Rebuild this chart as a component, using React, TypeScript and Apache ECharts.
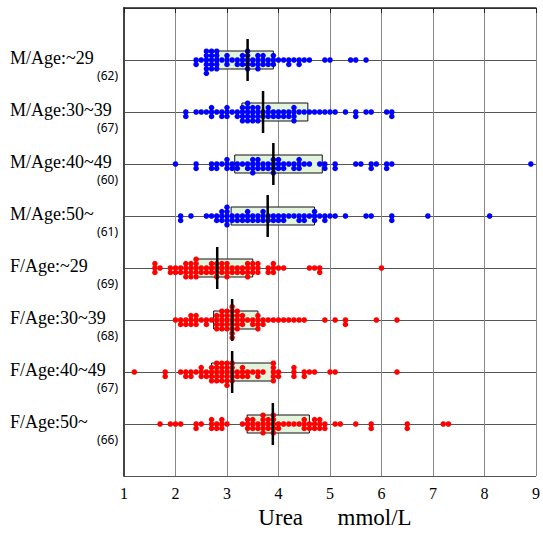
import React, { useEffect, useRef } from "react";
import * as echarts from "echarts";

// Group labels (top to bottom) and their sample sizes
const groups = [
  "M/Age:~29",
  "M/Age:30~39",
  "M/Age:40~49",
  "M/Age:50~",
  "F/Age:~29",
  "F/Age:30~39",
  "F/Age:40~49",
  "F/Age:50~",
];
const counts = [62, 67, 60, 61, 69, 68, 67, 66];
const sex = ["M", "M", "M", "M", "F", "F", "F", "F"];

// Box statistics (mmol/L)
const q1 = [2.83, 3.29, 3.15, 3.08, 2.39, 2.74, 2.7, 3.39];
const medians = [3.4, 3.7, 3.9, 3.79, 2.81, 3.1, 3.1, 3.89];
const q3 = [3.9, 4.57, 4.85, 4.7, 3.5, 3.6, 3.89, 4.6];

// X axis ticks
const xTicks = [1, 2, 3, 4, 5, 6, 7, 8, 9];

// Individual urea values: [value, how many points at that value]
const mAge29: [number, number][] = [
  [2.4, 2], [2.5, 1], [2.6, 6], [2.7, 5], [2.8, 5], [2.9, 1], [3.0, 3], [3.1, 1],
  [3.2, 2], [3.3, 3], [3.4, 5], [3.5, 2], [3.6, 4], [3.7, 3], [3.8, 2], [3.9, 3],
  [4.0, 1], [4.1, 1], [4.2, 2], [4.3, 1], [4.4, 2], [4.5, 1], [4.6, 1], [4.9, 1],
  [5.0, 1], [5.4, 1], [5.5, 1], [5.7, 1],
];
const mAge30: [number, number][] = [
  [2.2, 2], [2.4, 1], [2.5, 1], [2.6, 1], [2.7, 3], [2.8, 1], [2.9, 2], [3.0, 3],
  [3.1, 1], [3.2, 2], [3.3, 4], [3.4, 5], [3.5, 4], [3.6, 4], [3.7, 2], [3.8, 3],
  [3.9, 2], [4.0, 2], [4.1, 2], [4.2, 2], [4.3, 4], [4.4, 1], [4.5, 1], [4.6, 1],
  [4.7, 1], [4.8, 1], [4.9, 1], [5.0, 1], [5.1, 1], [5.3, 1], [5.5, 2], [5.7, 1],
  [5.8, 1], [6.1, 1], [6.2, 2],
];
const mAge40: [number, number][] = [
  [2.0, 1], [2.4, 2], [2.7, 2], [2.8, 2], [2.9, 1], [3.0, 3], [3.1, 2], [3.2, 2],
  [3.3, 1], [3.4, 2], [3.5, 4], [3.6, 3], [3.7, 2], [3.8, 2], [3.9, 4], [4.0, 3],
  [4.1, 2], [4.2, 1], [4.3, 2], [4.4, 3], [4.5, 1], [4.6, 1], [4.8, 1], [4.9, 2],
  [5.1, 2], [5.5, 1], [5.6, 1], [5.8, 2], [5.9, 1], [6.1, 2], [6.2, 1], [8.9, 1],
];
const mAge50: [number, number][] = [
  [2.1, 2], [2.3, 1], [2.6, 1], [2.7, 1], [2.8, 2], [2.9, 3], [3.0, 5], [3.1, 2],
  [3.2, 2], [3.3, 2], [3.4, 3], [3.5, 2], [3.6, 2], [3.7, 3], [3.8, 2], [3.9, 2],
  [4.0, 2], [4.1, 2], [4.2, 1], [4.3, 1], [4.4, 2], [4.5, 2], [4.6, 1], [4.7, 3],
  [4.8, 1], [4.9, 2], [5.0, 1], [5.1, 1], [5.3, 1], [5.7, 1], [5.8, 1], [6.2, 2],
  [6.9, 1], [8.1, 1],
];
const fAge29: [number, number][] = [
  [1.6, 3], [1.7, 1], [1.9, 2], [2.0, 2], [2.1, 2], [2.2, 4], [2.3, 4], [2.4, 5],
  [2.5, 2], [2.6, 2], [2.7, 3], [2.8, 4], [2.9, 3], [3.0, 4], [3.1, 2], [3.2, 2],
  [3.3, 2], [3.4, 4], [3.5, 3], [3.6, 3], [3.8, 2], [3.9, 3], [4.0, 1], [4.1, 1],
  [4.6, 1], [4.7, 1], [4.8, 2], [6.0, 1],
];
const fAge30: [number, number][] = [
  [2.0, 1], [2.1, 2], [2.2, 2], [2.3, 3], [2.4, 3], [2.5, 1], [2.6, 2], [2.7, 1],
  [2.8, 4], [2.9, 5], [3.0, 5], [3.1, 8], [3.2, 5], [3.3, 3], [3.4, 1], [3.5, 2],
  [3.6, 4], [3.7, 2], [3.8, 1], [3.9, 1], [4.0, 1], [4.1, 1], [4.2, 1], [4.3, 1],
  [4.4, 1], [4.5, 1], [4.9, 1], [5.1, 1], [5.3, 2], [5.9, 1], [6.3, 1],
];
const fAge40: [number, number][] = [
  [1.2, 1], [1.8, 2], [2.1, 1], [2.2, 2], [2.3, 2], [2.4, 1], [2.5, 3], [2.6, 2],
  [2.7, 4], [2.8, 5], [2.9, 5], [3.0, 6], [3.1, 5], [3.2, 2], [3.3, 3], [3.4, 2],
  [3.5, 1], [3.6, 2], [3.7, 1], [3.9, 5], [4.0, 2], [4.3, 3], [4.5, 2], [4.6, 1],
  [4.7, 1], [5.0, 1], [5.1, 1], [6.3, 1],
];
const fAge50: [number, number][] = [
  [1.7, 1], [1.9, 1], [2.0, 1], [2.1, 1], [2.4, 2], [2.5, 1], [2.7, 3], [2.8, 2],
  [2.9, 3], [3.0, 1], [3.3, 1], [3.4, 3], [3.5, 3], [3.6, 2], [3.7, 5], [3.8, 3],
  [3.9, 5], [4.0, 2], [4.1, 1], [4.2, 1], [4.3, 1], [4.4, 1], [4.5, 3], [4.6, 2],
  [4.7, 3], [4.8, 3], [4.9, 2], [5.1, 1], [5.2, 1], [5.5, 1], [5.8, 2], [6.5, 2],
  [7.2, 1], [7.3, 1],
];
const groupData = [mAge29, mAge30, mAge40, mAge50, fAge29, fAge30, fAge40, fAge50];

const DOT_STEP = 0.085; // vertical stacking step in row units

function swarm(pairs: [number, number][], row: number): number[][] {
  const pts: number[][] = [];
  pairs.forEach(([v, n]) => {
    for (let k = 0; k < n; k++) {
      const step = k === 0 ? 0 : k % 2 === 1 ? (k + 1) / 2 : -k / 2;
      pts.push([v, row + step * DOT_STEP]);
    }
  });
  return pts;
}

export default function App() {
  const ref = useRef<HTMLDivElement>(null);
  useEffect(() => {
    if (!ref.current) return;
    const chart = echarts.init(ref.current, undefined, { renderer: "svg" });

    const mPts: number[][] = [];
    const fPts: number[][] = [];
    groupData.forEach((g, i) => {
      const pts = swarm(g, i + 1);
      if (sex[i] === "M") mPts.push(...pts);
      else fPts.push(...pts);
    });

    const boxData = groups.map((_, i) => [q1[i], q3[i], i + 1]);
    const medData = groups.map((_, i) => [medians[i], i + 1]);

    chart.setOption({
      animation: false,
      backgroundColor: "#fff",
      grid: { left: 124, right: 6, top: 8, bottom: 61 },
      xAxis: {
        type: "value",
        min: xTicks[0],
        max: xTicks[xTicks.length - 1],
        interval: 1,
        name: "Urea      mmol/L",
        nameLocation: "middle",
        nameGap: 27,
        nameTextStyle: { fontFamily: "Liberation Serif", fontSize: 23, color: "#000", padding: [0, 0, 0, 10] },
        axisLine: { show: true, lineStyle: { color: "#222", width: 1.5 } },
        axisTick: { show: true, length: 5, inside: false, lineStyle: { color: "#222" } },
        axisLabel: {
          fontFamily: "Liberation Serif",
          fontSize: 16,
          color: "#000",
          margin: 9,
          showMinLabel: true,
          showMaxLabel: true,
        },
        splitLine: { show: true, lineStyle: { color: "#888", width: 1 } },
      },
      yAxis: {
        type: "value",
        min: 0,
        max: 9,
        interval: 1,
        inverse: true,
        axisLine: { show: true, lineStyle: { color: "#444", width: 2 } },
        axisTick: { show: false },
        axisLabel: {
          align: "left",
          margin: 114,
          padding: [10, 0, 0, 0],
          formatter: (v: number) => {
            const i = Math.round(v) - 1;
            if (i < 0 || i >= groups.length) return "";
            return `{a|${groups[i]}}\n{b|(${counts[i]})}`;
          },
          rich: {
            a: {
              fontFamily: "Liberation Serif",
              fontSize: 18,
              color: "#000",
              width: 108,
              align: "left",
              lineHeight: 20,
            },
            b: {
              fontFamily: "Noto Sans",
              fontSize: 12,
              color: "#000",
              width: 108,
              align: "right",
              lineHeight: 15,
            },
          },
        },
        splitLine: { show: true, lineStyle: { color: "#555", width: 1 } },
      },
      series: [
        {
          type: "custom",
          z: 1,
          data: boxData,
          renderItem: (params: any, api: any) => {
            const lo = api.coord([api.value(0), api.value(2)]);
            const hi = api.coord([api.value(1), api.value(2)]);
            return {
              type: "rect",
              shape: { x: lo[0], y: lo[1] - 9, width: hi[0] - lo[0], height: 18 },
              style: { fill: "#e2f5dc", stroke: "#111", lineWidth: 1 },
            };
          },
        },
        {
          type: "scatter",
          z: 2,
          symbol: "circle",
          symbolSize: 5.5,
          itemStyle: { color: "#0000ff", opacity: 1 },
          data: mPts,
        },
        {
          type: "scatter",
          z: 2,
          symbol: "circle",
          symbolSize: 5.5,
          itemStyle: { color: "#ff0000", opacity: 1 },
          data: fPts,
        },
        {
          type: "custom",
          z: 3,
          data: medData,
          renderItem: (params: any, api: any) => {
            const c = api.coord([api.value(0), api.value(1)]);
            return {
              type: "line",
              shape: { x1: c[0], y1: c[1] - 21, x2: c[0], y2: c[1] + 21 },
              style: { stroke: "#000", lineWidth: 2.5 },
            };
          },
        },
      ],
    });
    return () => chart.dispose();
  }, []);

  return (
    <div
      ref={ref}
      style={{ position: "fixed", left: 0, top: 0, width: 543, height: 537, background: "#fff" }}
    />
  );
}
